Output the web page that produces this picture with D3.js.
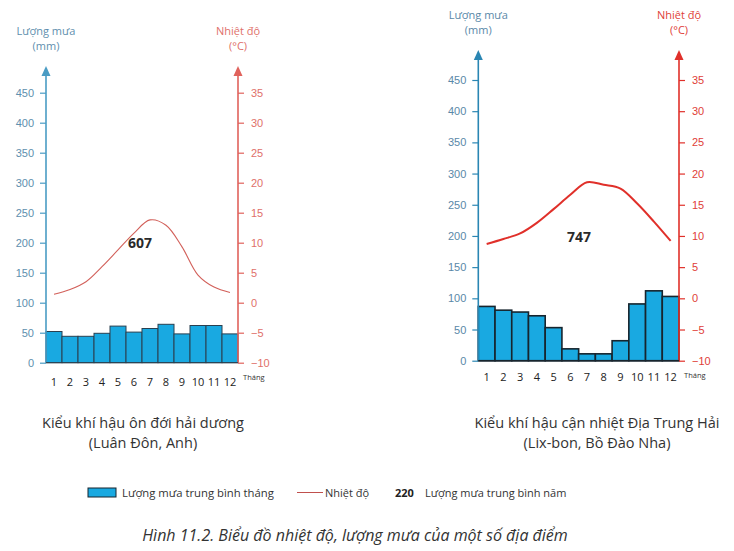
<!DOCTYPE html>
<html><head><meta charset="utf-8">
<script src="https://cdn.jsdelivr.net/npm/d3@7"></script>
<style>
body{margin:0;background:#fff;}
svg{display:block;font-family:"Open Sans","Noto Sans",sans-serif;}
</style></head>
<body><svg id="c" width="734" height="551"></svg>
<script>
const months = ["1","2","3","4","5","6","7","8","9","10","11","12"];
const rainTicks = [0,50,100,150,200,250,300,350,400,450];
const tempTicks = [-10,-5,0,5,10,15,20,25,30,35];
const londonRain = [52,44,44,49,61,51,57,64,48,62,62,48];
const londonTemp = [1.4,2.2,3.5,6.0,8.8,11.6,13.8,12.9,9.3,4.6,2.6,1.7];
const londonTotal = 607;
const lisbonRain = [87,81,78,72,53,19,11,11,32,91,112,103];
const lisbonTemp = [8.7,9.5,10.4,12.1,14.3,16.6,18.6,18.2,17.6,15.2,12.3,9.2];
const lisbonTotal = 747;
const legendSample = 220;

const svg = d3.select("#c");

const charts = [
  {rain: londonRain, temp: londonTemp, total: londonTotal,
   x0: 46, x1: 238, y0: 362.7, y450: 92.7, arrowTop: 66,
   titleY: 35, totalPos: [140, 248], monthY: 386, fade: true,
   caption: ["Kiểu khí hậu ôn đới hải dương", "(Luân Đôn, Anh)"], capX: 143},
  {rain: lisbonRain, temp: lisbonTemp, total: lisbonTotal,
   x0: 478.3, x1: 679, y0: 360.7, y450: 80, arrowTop: 50,
   titleY: 19, totalPos: [579, 242], monthY: 381, fade: false,
   caption: ["Kiểu khí hậu cận nhiệt Địa Trung Hải", "(Lix-bon, Bồ Đào Nha)"], capX: 597}
];

charts.forEach(c => {
  const g = svg.append("g");
  const blue = c.fade ? "#4a9cc4" : "#2a86b3";
  const blueTxt = c.fade ? "#5e8fae" : "#5a88a8";
  const red = c.fade ? "#e0625c" : "#e0302a";
  const redTxt = c.fade ? "#e0706a" : "#e04038";
  const x = d3.scaleBand().domain(months).range([c.x0, c.x1]).padding(0);
  const yR = d3.scaleLinear().domain([0,450]).range([c.y0, c.y450]);
  const yT = d3.scaleLinear().domain([-10,35]).range([c.y0, c.y450]);

  // bars
  g.selectAll("rect.bar").data(c.rain).join("rect")
    .attr("x", (d,i)=>x(months[i]))
    .attr("width", x.bandwidth())
    .attr("y", d=>yR(d))
    .attr("height", d=>c.y0 - yR(d))
    .attr("fill", "#19a9e1")
    .attr("stroke", c.fade ? "#2a4050" : "#17252e")
    .attr("stroke-width", c.fade ? 1 : 1.6);

  // temperature line
  const line = d3.line().x((d,i)=>x(months[i]) + x.bandwidth()/2).y(d=>yT(d)).curve(d3.curveCatmullRom.alpha(0.5));
  g.append("path").datum(c.temp).attr("d", line)
    .attr("fill","none").attr("stroke", c.fade ? "#d2605a" : "#e0302a")
    .attr("stroke-width", c.fade ? 1.1 : 2);

  // left axis
  const axL = g.append("g").attr("transform", `translate(${c.x0},0)`)
    .call(d3.axisLeft(yR).tickValues(rainTicks).tickSize(6).tickPadding(6));
  axL.select(".domain").remove();
  axL.selectAll(".tick line").attr("stroke", blue).attr("stroke-width",1.2);
  axL.selectAll(".tick text").attr("fill", blueTxt).attr("font-size", 11);
  g.append("line").attr("x1",c.x0).attr("x2",c.x0).attr("y1",c.y0).attr("y2",c.arrowTop+8)
    .attr("stroke", blue).attr("stroke-width",1.6);
  g.append("path").attr("d",`M${c.x0-4.5},${c.arrowTop+10}L${c.x0},${c.arrowTop}L${c.x0+4.5},${c.arrowTop+10}Z`).attr("fill",blue);

  // right axis
  const axR = g.append("g").attr("transform", `translate(${c.x1},0)`)
    .call(d3.axisRight(yT).tickValues(tempTicks).tickSize(6).tickPadding(7));
  axR.select(".domain").remove();
  axR.selectAll(".tick line").attr("stroke", red).attr("stroke-width",1.2);
  axR.selectAll(".tick text").attr("fill", redTxt).attr("font-size", 11);
  g.append("line").attr("x1",c.x1).attr("x2",c.x1).attr("y1",c.y0).attr("y2",c.arrowTop+8)
    .attr("stroke", red).attr("stroke-width",1.6);
  g.append("path").attr("d",`M${c.x1-4.5},${c.arrowTop+10}L${c.x1},${c.arrowTop}L${c.x1+4.5},${c.arrowTop+10}Z`).attr("fill",red);

  // baseline
  g.append("line").attr("x1",c.x0).attr("x2",c.x1).attr("y1",c.y0).attr("y2",c.y0)
    .attr("stroke", c.fade ? "#2a4050" : "#17252e").attr("stroke-width", c.fade?1:1.6);

  // axis titles
  g.append("text").attr("x",c.x0).attr("y",c.titleY).attr("text-anchor","middle")
    .attr("font-size",11).attr("fill",blueTxt).text("Lượng mưa");
  g.append("text").attr("x",c.x0).attr("y",c.titleY+15).attr("text-anchor","middle")
    .attr("font-size",11).attr("fill",blueTxt).text("(mm)");
  g.append("text").attr("x",c.x1).attr("y",c.titleY).attr("text-anchor","middle")
    .attr("font-size",11).attr("fill",redTxt).text("Nhiệt độ");
  g.append("text").attr("x",c.x1).attr("y",c.titleY+15).attr("text-anchor","middle")
    .attr("font-size",11).attr("fill",redTxt).text("(°C)");

  // month labels
  g.selectAll("text.m").data(months).join("text")
    .attr("x", d=>x(d)+x.bandwidth()/2).attr("y", c.monthY)
    .attr("text-anchor","middle").attr("font-size",11).attr("fill","#222").text(d=>d);
  g.append("text").attr("x", c.x1+5).attr("y", c.y0+17)
    .attr("font-size",7.5).attr("fill","#333").text("Tháng");

  // annual total
  g.append("text").attr("x",c.totalPos[0]).attr("y",c.totalPos[1]).attr("text-anchor","middle")
    .attr("font-size",14).attr("font-weight","bold").attr("fill","#2a2a2a").text(c.total);

  // captions
  g.append("text").attr("x",c.capX).attr("y",428).attr("text-anchor","middle")
    .attr("font-size",14.5).attr("fill","#333").text(c.caption[0]);
  g.append("text").attr("x",c.capX).attr("y",448).attr("text-anchor","middle")
    .attr("font-size",14.5).attr("fill","#333").text(c.caption[1]);
});

// legend
const lg = svg.append("g");
lg.append("rect").attr("x",88).attr("y",488).attr("width",28).attr("height",9)
  .attr("fill","#19a9e1").attr("stroke","#17252e").attr("stroke-width",1);
lg.append("text").attr("x",122).attr("y",496.5).attr("font-size",11.3).attr("fill","#333")
  .text("Lượng mưa trung bình tháng");
lg.append("line").attr("x1",297).attr("x2",323).attr("y1",492.5).attr("y2",492.5)
  .attr("stroke","#c0504d").attr("stroke-width",1);
lg.append("text").attr("x",325).attr("y",496.5).attr("font-size",11).attr("fill","#333").text("Nhiệt độ");
lg.append("text").attr("x",395).attr("y",496.5).attr("font-size",11).attr("font-weight","bold").attr("fill","#222").text(legendSample);
lg.append("text").attr("x",425).attr("y",496.5).attr("font-size",11).attr("fill","#333").text("Lượng mưa trung bình năm");

// figure title
svg.append("text").attr("x",355).attr("y",541).attr("text-anchor","middle")
  .attr("font-size",16).attr("font-style","italic").attr("fill","#333")
  .text("Hình 11.2. Biểu đồ nhiệt độ, lượng mưa của một số địa điểm");
</script></body></html>
